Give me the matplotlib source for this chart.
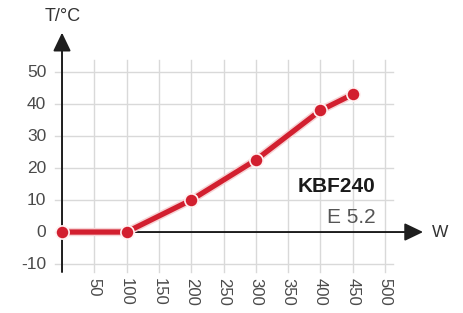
import matplotlib
matplotlib.use("Agg")
import matplotlib.pyplot as plt
import matplotlib.patheffects as pe

# data
power_w = [0, 100, 200, 300, 400, 450]
temp_c = [0, 0, 10, 22.5, 38, 43]
x_ticks = [50, 100, 150, 200, 250, 300, 350, 400, 450, 500]
y_ticks = [-10, 0, 10, 20, 30, 40, 50]
y_grid = [-10, 10, 20, 30, 40, 50]

plt.rcParams['font.family'] = ['Liberation Sans', 'DejaVu Sans']

fig = plt.figure(figsize=(4.64, 3.13), dpi=100)
ax = fig.add_axes([0, 0, 1, 1])
ax.set_xlim(-96, 622.3)
ax.set_ylim(-25.3, 72.5)
ax.axis('off')

grid_c = '#d9d9d9'
# grid
for x in x_ticks:
    ax.plot([x, x], [-12.5, 53.8], color=grid_c, lw=1.0, zorder=1)
for y in y_grid:
    ax.plot([-11, 512], [y, y], color=grid_c, lw=1.0, zorder=1)
ax.plot([-11, 0], [0, 0], color=grid_c, lw=1.0, zorder=1)

# axes with arrows
axis_c = '#1e1e1e'
ax.annotate('', xy=(0, 62.3), xytext=(0, -12.5),
            arrowprops=dict(arrowstyle='-|>,head_length=0.75,head_width=0.36',
                            mutation_scale=15, lw=1.4, color=axis_c,
                            shrinkA=0, shrinkB=0), zorder=2)
ax.annotate('', xy=(559, 0), xytext=(0, 0),
            arrowprops=dict(arrowstyle='-|>,head_length=0.75,head_width=0.36',
                            mutation_scale=15, lw=1.4, color=axis_c,
                            shrinkA=0, shrinkB=0), zorder=2)

# tick labels
for y in y_ticks:
    ax.text(-24.5, y, str(y), ha='right', va='center', fontsize=12.5, color='#4a4a4a')
for x in x_ticks:
    ax.text(x, -14.5, str(x), ha='center', va='top', rotation=270,
            fontsize=12, color='#4a4a4a')

ax.text(1.5, 67.2, 'T/°C', ha='center', va='center', fontsize=13, color='#333333')
ax.text(586, -0.3, 'W', ha='center', va='center', fontsize=12.5, color='#333333')

# series
red = '#d21f2f'
ax.plot(power_w, temp_c, color=red, lw=3.8, solid_capstyle='round', zorder=5,
        path_effects=[pe.Stroke(linewidth=6.0, foreground='#f6d3d5'), pe.Normal()])
ax.plot(power_w, temp_c, linestyle='none', marker='o', ms=9.5,
        markerfacecolor=red, markeredgecolor='#fff2f2', markeredgewidth=1.2,
        zorder=6)

ax.text(485, 14.2, 'KBF240', ha='right', va='center', fontsize=15,
        fontweight='bold', color='#1a1a1a')
ax.text(485, 4.4, 'E 5.2', ha='right', va='center', fontsize=15, color='#555555')

fig.savefig('out.png', dpi=100)
